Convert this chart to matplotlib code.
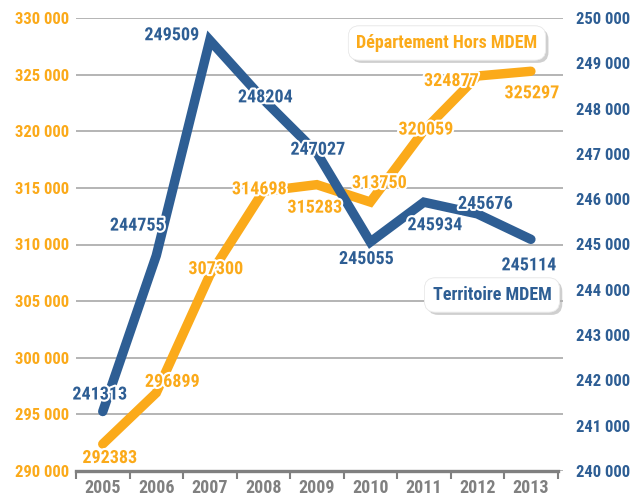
import matplotlib
matplotlib.use('Agg')
import matplotlib.pyplot as plt
import matplotlib.patheffects as pe
import matplotlib.ticker as mticker

years = ['2005', '2006', '2007', '2008', '2009', '2010', '2011', '2012', '2013']
hors_mdem = [292383, 296899, 307300, 314698, 315283, 313750, 320059, 324877, 325297]
territoire = [241313, 244755, 249509, 248204, 247027, 245055, 245934, 245676, 245114]

# label offsets in pixels (dx, dy, y up)
off_hors = [(7, -14), (16, 11), (6, 6), (-4, 2), (-2, -23), (9, 19), (2, 1), (-26, -5), (1, -22)]
off_terr = [(-3, 17), (-19, 30), (-38, 5), (2, 2), (1, 3), (-4, -17), (11, -23), (8, 10), (-2, -26)]

ORANGE = '#FBAA1A'
BLUE = '#2E5E94'
GREY = '#808080'
FS = 13
FS_AX = 12

plt.rcParams['font.family'] = ['Roboto Condensed', 'DejaVu Sans']
plt.rcParams['font.weight'] = 'bold'

fig = plt.figure(figsize=(6.32, 4.97), dpi=100)
ax = fig.add_axes([76/632, 1-471/497, (563-76)/632, (471-18)/497])
ax2 = ax.twinx()

x = list(range(len(years)))
ax.set_xlim(-0.5, 8.6)
ax.set_ylim(290000, 330000)
ax2.set_ylim(240000, 250000)

ax.yaxis.set_major_locator(mticker.MultipleLocator(5000))
ax2.yaxis.set_major_locator(mticker.MultipleLocator(1000))
fmt = mticker.FuncFormatter(lambda v, p: f'{int(v):,}'.replace(',', ' '))
ax.yaxis.set_major_formatter(fmt)
ax2.yaxis.set_major_formatter(fmt)

ax.grid(axis='y', color='#a8a8a8', lw=1.2)
ax.set_axisbelow(True)

for a in (ax, ax2):
    for s in ('top', 'left', 'right'):
        a.spines[s].set_visible(False)
ax2.spines['bottom'].set_visible(False)
ax.spines['bottom'].set_color(GREY)
ax.spines['bottom'].set_linewidth(2.4)
ax.spines['bottom'].set_bounds(-0.5, 8.5)

ax.set_xticks(x)
ax.set_xticklabels(years)
ax.set_xticks([i - 0.5 for i in range(len(years) + 1)], minor=True)
ax.tick_params(axis='x', which='major', length=0, pad=6, labelsize=FS, labelcolor=GREY)
ax.tick_params(axis='x', which='minor', length=6, width=1.5, color=GREY, direction='out')
ax.tick_params(axis='y', length=0, pad=5, labelsize=FS_AX, labelcolor=ORANGE)
ax2.tick_params(axis='y', length=0, pad=9, labelsize=FS_AX, labelcolor=BLUE)

ax.plot(x, hors_mdem, color=ORANGE, lw=6.8, solid_capstyle='round', solid_joinstyle='miter', zorder=3)
ax2.plot(x, territoire, color=BLUE, lw=6.8, solid_capstyle='round', solid_joinstyle='miter', zorder=3)

stroke = [pe.withStroke(linewidth=3, foreground='white')]
for xi, v, (dx, dy) in zip(x, hors_mdem, off_hors):
    ax2.annotate(str(v), (xi, v), xycoords=ax.transData, xytext=(dx, dy), textcoords='offset pixels',
                 ha='center', va='center', color=ORANGE, fontsize=FS, fontweight='bold',
                 path_effects=stroke, zorder=5)
for xi, v, (dx, dy) in zip(x, territoire, off_terr):
    ax2.annotate(str(v), (xi, v), xytext=(dx, dy), textcoords='offset pixels',
                 ha='center', va='center', color=BLUE, fontsize=FS, fontweight='bold',
                 path_effects=stroke, zorder=5)

shadow = [pe.withSimplePatchShadow(offset=(2, -2), shadow_rgbFace='#b0b0b0', alpha=0.6), pe.Normal()]
for txt, col, px, py in [('Département Hors MDEM', ORANGE, 447, 43), ('Territoire MDEM', BLUE, 492, 295)]:
    t = fig.text(px/632, 1-py/497, txt, ha='center', va='center', color=col, fontsize=FS,
                 fontweight='bold', zorder=10,
                 bbox=dict(boxstyle='round,pad=0.45,rounding_size=0.6', fc='white', ec='#e8e8e8', lw=0.5))
    t.get_bbox_patch().set_path_effects(shadow)

fig.savefig('out.png', dpi=100)
